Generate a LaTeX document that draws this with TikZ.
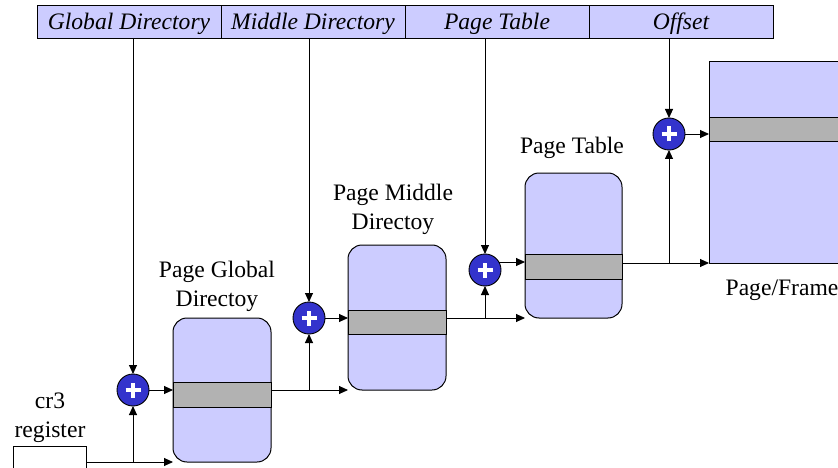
\documentclass[tikz,border=0pt]{standalone}
\usepackage{fontspec}
\setmainfont{Liberation Serif}
\usetikzlibrary{arrows.meta}
\definecolor{lav}{RGB}{204,204,255}
\definecolor{bandgray}{RGB}{178,178,178}
\definecolor{adderblue}{RGB}{51,51,204}
\begin{document}
\begin{tikzpicture}[x=1pt,y=-1pt,
  every node/.style={font=\fontsize{23.6}{29}\selectfont},
  field/.style={draw, fill=lav, line width=0.9pt, minimum width=184pt,
    minimum height=33pt, inner sep=0pt, outer sep=0pt,
    text height=22pt, text depth=5pt,
    font=\fontsize{23.6}{29}\selectfont\itshape},
  tablebox/.style={draw, fill=lav, line width=1pt, rounded corners=14pt,
    inner sep=0pt, outer sep=0pt},
  framebox/.style={draw, fill=lav, line width=1pt, inner sep=0pt, outer sep=0pt},
  entry/.style={draw, fill=bandgray, line width=1pt},
  adder/.style={circle, draw, fill=adderblue, line width=0.9pt,
    minimum size=32pt, inner sep=0pt, outer sep=0pt,
    path picture={
      \draw[white, line width=3.8pt]
        ([xshift=-7.5pt]path picture bounding box.center) --
        ([xshift=7.5pt]path picture bounding box.center)
        ([yshift=-7.5pt]path picture bounding box.center) --
        ([yshift=7.5pt]path picture bounding box.center);}},
  arr/.style={-{Triangle[length=9pt,width=8pt]}, line width=0.9pt}
]
\clip (0,0) rectangle (838,468);
\fill[white] (0,0) rectangle (838,468);

% linear address fields
\node[field] (f1) at (129,21.5) {Global Directory};
\node[field] (f2) at (313,21.5) {Middle Directory};
\node[field] (f3) at (497,21.5) {Page Table};
\node[field] (f4) at (681,21.5) {Offset};

% cr3 register
\node[draw, line width=0.9pt, minimum width=73pt, minimum height=44pt,
  inner sep=0pt, outer sep=0pt] (cr3) at (49.5,468) {};
\node[align=center] (lcr3) at (50,418) {cr3\\register};

% tables
\node[tablebox, minimum width=98pt, minimum height=144pt] (pgd) at (222,390) {};
\node[tablebox, minimum width=98pt, minimum height=145pt] (pmd) at (397,317.5) {};
\node[tablebox, minimum width=97pt, minimum height=145pt] (pt) at (573.5,245.5) {};
\node[framebox, minimum width=160pt, minimum height=201pt] (frame) at (789,162.5) {};

% selected entries
\draw[entry] (pgd.west |- 0,382) rectangle (pgd.east |- 0,407);
\draw[entry] (pmd.west |- 0,310) rectangle (pmd.east |- 0,334);
\draw[entry] (pt.west |- 0,254) rectangle (pt.east |- 0,279);
\draw[entry] (frame.west |- 0,118) rectangle (frame.east |- 0,142);

% labels
\node[align=center] (lpgd) at (217,286) {Page Global\\Directoy};
\node[align=center] (lpmd) at (393,209) {Page Middle\\Directoy};
\node (lpt) at (572,148) {Page Table};
\node (lframe) at (782,290) {Page/Frame};

% adders
\node[adder] (c1) at (133,390) {};
\node[adder] (c2) at (309,318) {};
\node[adder] (c3) at (485,270) {};
\node[adder] (c4) at (669,134) {};

% field offsets into the adders
\draw[arr] (f1.south -| c1) -- (c1.north);
\draw[arr] (f2.south -| c2) -- (c2.north);
\draw[arr] (f3.south -| c3) -- (c3.north);
\draw[arr] (f4.south -| c4) -- (c4.north);

% base addresses
\draw[arr] (cr3.east |- pgd.south west) -- (pgd.south west);
\draw[arr] (c1 |- pgd.south west) -- (c1.south);
\draw[arr] (pgd.east |- pmd.south west) -- (pmd.south west);
\draw[arr] (c2 |- pmd.south west) -- (c2.south);
\draw[arr] (pmd.east |- pt.south west) -- (pt.south west);
\draw[arr] (c3 |- pt.south west) -- (c3.south);
\draw[arr] (pt.east |- frame.south west) -- (frame.south west);
\draw[arr] (c4 |- frame.south west) -- (c4.south);

% adder results into the selected entries
\draw[arr] (c1.east) -- (c1.east -| pgd.west);
\draw[arr] (c2.east) -- (c2.east -| pmd.west);
\draw[arr] (c3.30) -- (c3.30 -| pt.west);
\draw[arr] (c4.east) -- (c4.east -| frame.west);
\end{tikzpicture}
\end{document}
